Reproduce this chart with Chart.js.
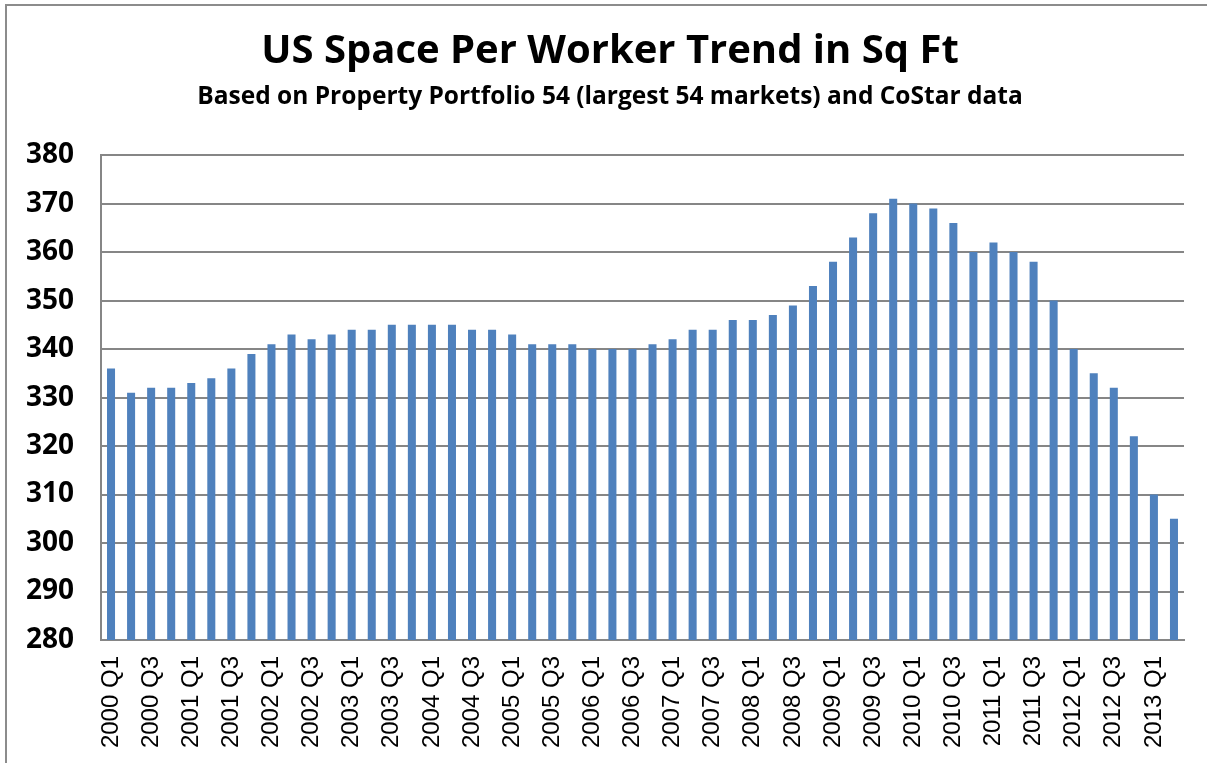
<!DOCTYPE html>
<html>
<head>
<meta charset="utf-8">
<script src="https://cdn.jsdelivr.net/npm/chart.js@4/dist/chart.umd.min.js"></script>
<style>
  html, body { margin: 0; padding: 0; background: #fff; }
  #wrap { position: relative; width: 1207px; height: 763px; overflow: hidden; }
  #frame { position: absolute; left: 5px; top: 4px; width: 1300px; height: 900px;
           border-left: 2px solid #8c8c8c; border-top: 2px solid #8c8c8c; pointer-events: none; }
  canvas { position: absolute; left: 0; top: 0; }
</style>
</head>
<body>
<div id="wrap">
  <canvas id="c" width="1207" height="763"></canvas>
  <div id="frame"></div>
</div>
<script>
const titleText = "US Space Per Worker Trend in Sq Ft";
const subtitleText = "Based on Property Portfolio 54 (largest 54 markets) and CoStar data";

const years = [2000, 2001, 2002, 2003, 2004, 2005, 2006, 2007, 2008, 2009, 2010, 2011, 2012, 2013];
const quarters = ["Q1", "Q2", "Q3", "Q4"];
const categories = [];
years.forEach(y => quarters.forEach(q => categories.push(y + " " + q)));
categories.length = 54; // 2000 Q1 .. 2013 Q2

const spacePerWorker = [
  336, 331, 332, 332, 333, 334, 336, 339, 341, 343,
  342, 343, 344, 344, 345, 345, 345, 345, 344, 344,
  343, 341, 341, 341, 340, 340, 340, 341, 342, 344,
  344, 346, 346, 347, 349, 353, 358, 363, 368, 371,
  370, 369, 366, 360, 362, 360, 358, 350, 340, 335,
  332, 322, 310, 305
];

const yMin = 280, yMax = 380, yStep = 10;

// let the y tick labels extend into the left layout padding
const unclipY = {
  id: "unclipY",
  afterLayout(chart) { chart.scales.y.left = 0; }
};

new Chart(document.getElementById("c"), {
  type: "bar",
  data: {
    labels: categories,
    datasets: [{
      data: spacePerWorker,
      backgroundColor: "#4f81bd",
      borderWidth: 0,
      barPercentage: 0.4,
      categoryPercentage: 1.0
    }]
  },
  plugins: [unclipY],
  options: {
    responsive: false,
    animation: false,
    layout: { padding: { left: 36, right: 23, top: 0, bottom: 0 } },
    plugins: {
      legend: { display: false },
      tooltip: { enabled: false },
      title: {
        display: true,
        text: titleText,
        color: "#000",
        font: { family: "Open Sans", size: 40, weight: "bold", lineHeight: 1.2 },
        padding: { top: 28, bottom: 0 }
      },
      subtitle: {
        display: true,
        text: subtitleText,
        color: "#000",
        font: { family: "Open Sans", size: 24.5, weight: "bold", lineHeight: 1.2 },
        padding: { top: 6.7, bottom: 43 }
      }
    },
    scales: {
      x: {
        grid: { display: false, drawTicks: false },
        border: { display: true, color: "#868686", width: 2 },
        ticks: {
          autoSkip: false,
          maxRotation: 90,
          minRotation: 90,
          padding: 16,
          color: "#000",
          font: { family: "Liberation Sans", size: 24 },
          callback: function(v, i) { return i % 2 === 0 ? categories[i] : ""; }
        },
        afterFit: function(s) { s.height = 123; s.paddingLeft = 0; s.paddingRight = 0; }
      },
      y: {
        min: yMin,
        max: yMax,
        grid: { color: "#868686", lineWidth: 2, drawTicks: false },
        border: { display: true, color: "#868686", width: 2 },
        ticks: {
          stepSize: yStep,
          padding: 27,
          color: "#000",
          font: { family: "Open Sans", size: 28, weight: "bold" }
        },
        afterFit: function(s) { s.width = 65; }
      }
    }
  }
});
</script>
</body>
</html>
